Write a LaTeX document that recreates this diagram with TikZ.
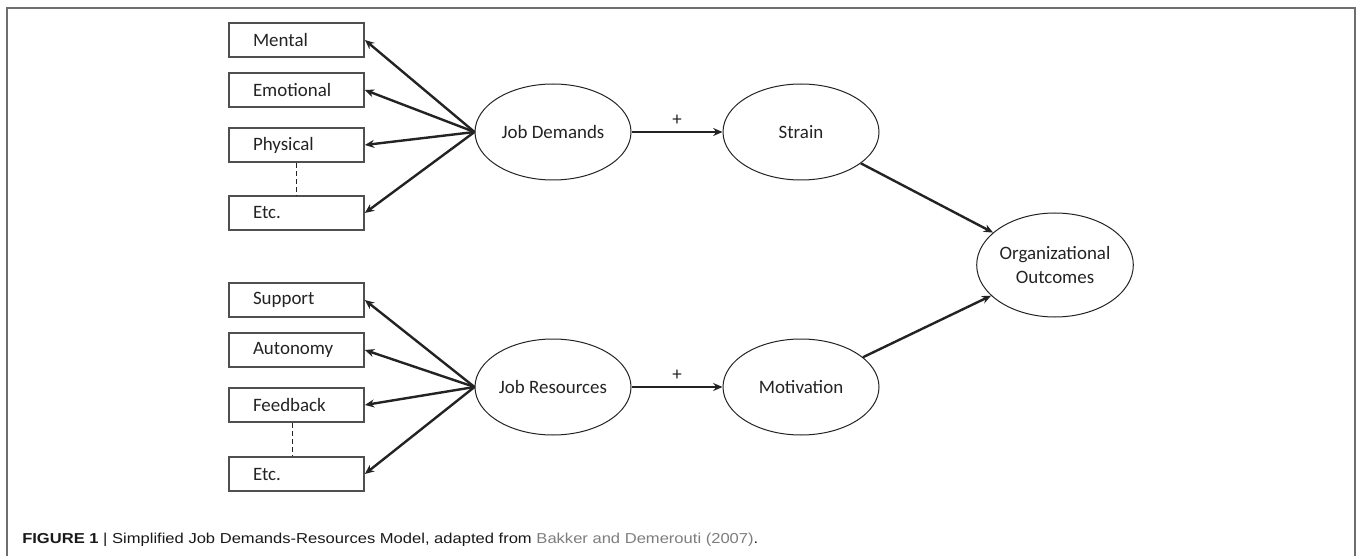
\documentclass[tikz,border=0pt]{standalone}
\usepackage{fontspec}
\setmainfont{Carlito}
\newfontfamily\capfont[FakeStretch=1.15]{Liberation Sans}
\usetikzlibrary{shapes.geometric,arrows.meta}
\definecolor{framegray}{RGB}{110,110,110}
\definecolor{linedark}{RGB}{35,35,35}
\definecolor{citegray}{RGB}{125,125,125}
\tikzset{
  box/.style={draw=linedark!80, line width=1.3pt, rectangle, inner xsep=18pt, inner ysep=0pt,
    text width=65.25pt, align=left, minimum height=25.5pt, font=\fontsize{14.2}{16}\selectfont, text=linedark},
  oval/.style={draw=linedark, line width=0.75pt, ellipse, minimum width=117pt, minimum height=72pt,
    inner sep=0pt, align=center, font=\fontsize{14.2}{17.5}\selectfont, text=linedark},
  arr/.style={draw=linedark, line width=1.8pt, -{Stealth[length=7pt,width=6pt]}},
  dsh/.style={draw=linedark, line width=0.9pt, dash pattern=on 3.5pt off 2.5pt},
  frame/.style={draw=framegray, line width=1.6pt},
  plus/.style={above=1pt, font=\fontsize{14.2}{16}\selectfont, text=linedark}
}
\begin{document}
\begin{tikzpicture}[x=0.75pt,y=-0.75pt]
\useasboundingbox (0,0) rectangle (1357,556);
% frame
\draw[frame] (7,556) -- (7,8) -- (1355,8) -- (1355,556);
% boxes top
\node[box] (mental) at (296.5,40) {Mental};
\node[box] (emot) at (296.5,90) {Emotional};
\node[box] (phys) at (296.5,145) {Physical};
\node[box] (etc1) at (296.5,213) {Etc.};
% boxes bottom
\node[box] (supp) at (296.5,300) {Support};
\node[box] (auto) at (296.5,350) {Autonomy};
\node[box] (feed) at (296.5,405) {Feedback};
\node[box] (etc2) at (296.5,474) {Etc.};
% dashed
\draw[dsh] (phys.south) -- (etc1.north);
\draw[dsh] ([xshift=-3pt]feed.south) -- ([xshift=-3pt]etc2.north);
% ovals
\node[oval] (jd) at (553,132) {Job Demands};
\node[oval] (st) at (801,132) {Strain};
\node[oval] (jr) at (553,387) {Job Resources};
\node[oval] (mo) at (801,387) {Motivation};
\node[oval, minimum height=78pt] (oo) at (1055,265) {Organizational\\Outcomes};
% arrows
\foreach \b in {mental,emot,phys,etc1} \draw[arr] (jd.west) -- (\b.east);
\foreach \b in {supp,auto,feed,etc2} \draw[arr] (jr.west) -- (\b.east);
\draw[arr] (jd) -- node[plus] {+} (st);
\draw[arr] (jr) -- node[plus] {+} (mo);
\draw[arr] (st) -- (oo);
\draw[arr] (mo) -- (oo);
% caption
\node[anchor=base west, inner sep=0pt, font=\capfont\fontsize{10.8}{13}\selectfont, text=black!90] (cap) at (22,543)
  {\textbf{FIGURE 1} | Simplified Job Demands-Resources Model, adapted from \textcolor{citegray}{Bakker and Demerouti (2007)}.};
\end{tikzpicture}
\end{document}
